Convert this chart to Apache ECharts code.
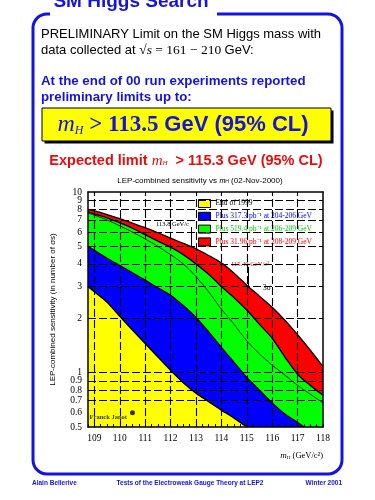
<!DOCTYPE html>
<html><head><meta charset="utf-8">
<script src="https://cdn.jsdelivr.net/npm/echarts@6/dist/echarts.min.js"></script>
<style>html,body{margin:0;padding:0;background:#fff}#c{width:375px;height:500px}</style>
</head><body><div id="c"></div>
<script>
// ---- data ----
const endOf1999 = [[108.75,3.0],[109,2.8],[109.5,2.45],[110,2.05],[110.5,1.72],[111,1.45],[111.5,1.22],[112,1.03],[112.5,0.88],[113,0.77],[113.5,0.69],[114,0.62],[114.5,0.56],[115,0.5]];
const plusBlue = [[108.75,5.0],[109,4.75],[109.5,4.3],[110,3.92],[110.5,3.57],[111,3.25],[111.5,2.95],[112,2.68],[112.5,2.35],[113,2.02],[113.5,1.68],[114,1.38],[114.5,1.14],[115,0.94],[115.5,0.8],[116,0.68],[116.5,0.59],[117,0.53],[117.26,0.5]];
const plusGreen = [[108.75,7.75],[109,7.55],[109.5,7.2],[110,6.75],[110.5,6.3],[111,5.8],[111.5,5.35],[112,4.95],[112.5,4.5],[113,4.0],[113.5,3.5],[114,3.0],[114.5,2.6],[115,2.22],[115.5,1.85],[116,1.55],[116.5,1.22],[117,0.98],[117.5,0.85],[118,0.75]];
const plusRed = [[108.75,8.0],[109,7.85],[109.5,7.5],[110,7.12],[110.5,6.72],[111,6.35],[111.5,5.95],[112,5.55],[112.5,5.2],[113,4.85],[113.5,4.45],[114,4.05],[114.5,3.55],[115,3.05],[115.5,2.65],[116,2.3],[116.5,1.95],[117,1.62],[117.5,1.33],[118,1.08]];
const innerLine = [[108.75,7.65],[109,7.45],[109.5,7.0],[110,6.5],[110.5,6.0],[111,5.5],[111.5,5.0],[112,4.5],[112.5,4.0],[113,3.4],[113.5,2.8],[114,2.25],[114.5,1.85],[115,1.5],[115.5,1.27],[116,1.1],[116.5,0.97],[117,0.85],[117.5,0.76],[118,0.68]];
const janotPoint = [[110.5,0.6]];
const gridY = [0.7,0.8,0.9,1,2,3,4,5,6,7,8,9];
const gridX = [109,110,111,112,113,114,115,116,117];
const yTickLabels = [0.5,0.6,0.7,0.8,0.9,1,2,3,4,5,6,7,8,9,10];
const fiveSigma = {mass:112.82, level:5.0, top:6.4};
const threeSigma = {mass:115.04, level:3.0, top:3.85};
const seriesNames = ['End of 1999','Plus 317.3 pb\u207B\u00B9 at 204-206 GeV','Plus 519.4 pb\u207B\u00B9 at 206-209 GeV','Plus 31.96 pb\u207B\u00B9 at 208-209 GeV'];
const bandColors = ['#ffff00','#0000ff','#00ff00','#ff0000'];
const legendTextColors = ['#000000','#0000ff','#00d000','#ff0000'];

const BLUE = '#1414dc';
const chart = echarts.init(document.getElementById('c'), null, {renderer:'canvas'});

function band(i, data, z){
  return {name:seriesNames[i], type:'line', data:data, z:z, smooth:0.3, symbol:'none', silent:true,
    lineStyle:{color:'#000', width:1.3}, itemStyle:{color:bandColors[i]},
    areaStyle:{color:bandColors[i], opacity:1, origin:'start'}};
}
const dash = {type:[8,3], color:'#000', width:1.1};
const mlData = [];
gridY.forEach(v => mlData.push({yAxis:v, lineStyle:dash, label:{show:false}}));
gridX.forEach(v => mlData.push({xAxis:v, lineStyle:dash, label:{show:false}}));
[fiveSigma, threeSigma].forEach(s => mlData.push([{coord:[s.mass,s.level], lineStyle:{type:'solid',color:'#000',width:1}, label:{show:false}},{coord:[s.mass,s.top]}]));
const tickData = yTickLabels.map(v => ({yAxis:v, label:{formatter:String(v)}}));

const axisCommon = {axisLine:{show:true, lineStyle:{color:'#000', width:1.5}}, splitLine:{show:false}, z:10};

const option = {
  animation:false,
  backgroundColor:'#fff',
  grid:{left:88, right:52, top:192, bottom:73},
  xAxis:[
    Object.assign({type:'value', min:108.75, max:118, interval:0.25, position:'bottom',
      axisTick:{inside:true, length:3, lineStyle:{color:'#000'}},
      axisLabel:{formatter:v => Math.abs(v-Math.round(v))<1e-6 ? String(Math.round(v)) : '', color:'#000', fontFamily:'Liberation Serif', fontSize:9.5, margin:6}}, axisCommon),
    Object.assign({type:'value', min:108.75, max:118, position:'top', axisTick:{show:false}, axisLabel:{show:false}}, axisCommon)
  ],
  yAxis:[
    Object.assign({type:'log', logBase:10, min:0.5, max:10, position:'left', axisTick:{show:false}, axisLabel:{show:false},
      name:'LEP-combined sensitivity (in number of \u03C3s)', nameLocation:'middle', nameGap:31,
      nameTextStyle:{fontFamily:'Liberation Sans', fontSize:8, color:'#000'}}, axisCommon),
    Object.assign({type:'log', logBase:10, min:0.5, max:10, position:'right', axisTick:{show:false}, axisLabel:{show:false}}, axisCommon)
  ],
  legend:{orient:'vertical', left:198, top:199, padding:0, itemWidth:12, itemHeight:8, itemGap:3.8, icon:'rect', selectedMode:false,
    itemStyle:{borderColor:'#000', borderWidth:1},
    textStyle:{fontFamily:'Liberation Serif', fontSize:7.5},
    data:seriesNames.map((n,i)=>({name:n, itemStyle:{color:bandColors[i], borderColor:'#000', borderWidth:1}, textStyle:{color:legendTextColors[i]}}))},
  series:[
    band(3, plusRed, 1),
    band(2, plusGreen, 2),
    band(1, plusBlue, 3),
    band(0, endOf1999, 4),
    {name:'inner', type:'line', data:innerLine, z:5, smooth:0.3, symbol:'none', silent:true,
      lineStyle:{color:'#000', width:0.8},
      markLine:{silent:true, symbol:'none', animation:false, data:mlData}},
    {name:'janot', type:'scatter', data:janotPoint, z:6, symbolSize:5, itemStyle:{color:'#000'}, silent:true,
      label:{show:true, formatter:'Franck Janot', position:'left', distance:3, offset:[0,5], color:'#000', fontFamily:'Liberation Serif', fontWeight:'bold', fontSize:6.5},
      markLine:{silent:true, symbol:'none', animation:false,
        lineStyle:{color:'rgba(0,0,0,0)', width:0},
        label:{show:true, position:'start', distance:6, color:'#000', fontFamily:'Liberation Serif', fontSize:9.5},
        data:tickData}}
  ],
  graphic:[
    {type:'rect', shape:{x:33, y:14, width:309, height:460, r:14}, style:{fill:null, stroke:BLUE, lineWidth:3}},
    {type:'rect', shape:{x:50, y:10, width:167, height:8}, style:{fill:'#fff'}},
    {type:'text', x:131, y:2, style:{text:'SM Higgs Search', font:'bold 19px "Liberation Sans"', fill:BLUE, align:'center', verticalAlign:'middle'}},
    {type:'text', x:41, y:34, style:{text:'PRELIMINARY Limit on the SM Higgs mass with', font:'13px "Liberation Sans"', fill:'#000', align:'left', verticalAlign:'middle'}},
    {type:'text', x:41, y:50, style:{text:'data collected at {r|\u221A}{i|s}{n| = 161 \u2212 210 }GeV:', font:'13px "Liberation Sans"', fill:'#000', align:'left', verticalAlign:'middle',
      rich:{r:{font:'13.5px "Liberation Serif"', fill:'#000'}, i:{font:'italic 13.5px "Liberation Serif"', fill:'#000'}, n:{font:'13.5px "Liberation Serif"', fill:'#000'}}}},
    {type:'text', x:41, y:81, style:{text:'At the end of 00 run experiments reported', font:'bold 13.3px "Liberation Sans"', fill:BLUE, align:'left', verticalAlign:'middle'}},
    {type:'text', x:41, y:97, style:{text:'preliminary limits up to:', font:'bold 13.3px "Liberation Sans"', fill:BLUE, align:'left', verticalAlign:'middle'}},
    {type:'rect', shape:{x:44.5, y:110.5, width:289, height:33}, style:{fill:'#000'}},
    {type:'rect', shape:{x:42, y:108, width:289, height:33}, style:{fill:'#ffff00', stroke:'#000', lineWidth:1}},
    {type:'text', x:183, y:125, style:{text:'{m|m}{s|H}{o| > 113.5 }{g|GeV (95% CL)}', align:'center', verticalAlign:'middle',
      rich:{m:{font:'italic 24px "Liberation Serif"', fill:BLUE}, s:{font:'italic 12px "Liberation Serif"', fill:BLUE, verticalAlign:'bottom', padding:[8,0,0,0]},
        o:{font:'bold 23px "Liberation Serif"', fill:BLUE}, g:{font:'bold 22px "Liberation Sans"', fill:BLUE}}}},
    {type:'text', x:186, y:161, style:{text:'{t|Expected limit }{m|m}{s|H}{t|  > 115.3 GeV (95% CL)}', align:'center', verticalAlign:'middle',
      rich:{t:{font:'bold 14.5px "Liberation Sans"', fill:'#e01010'}, m:{font:'italic 15px "Liberation Serif"', fill:'#e01010'}, s:{font:'italic 7px "Liberation Serif"', fill:'#e01010', padding:[5,0,0,0]}}}},
    {type:'text', x:200, y:180.5, style:{text:'LEP-combined sensitivity vs {m|m}{s|H} (02-Nov-2000)', font:'8px "Liberation Sans"', fill:'#000', align:'center', verticalAlign:'middle',
      rich:{m:{font:'italic 8.5px "Liberation Serif"', fill:'#000'}, s:{font:'5px "Liberation Sans"', fill:'#000', padding:[3,0,0,0]}}}},
    {type:'text', x:323, y:456, style:{text:'{m|m}{s|H} (GeV/c\u00B2)', font:'8.5px "Liberation Serif"', fill:'#000', align:'right', verticalAlign:'middle',
      rich:{m:{font:'italic 9px "Liberation Serif"', fill:'#000'}, s:{font:'5px "Liberation Serif"', fill:'#000', padding:[3,0,0,0]}}}},
    {type:'text', x:189, y:224, style:{text:'113.8 GeV/c', font:'6.5px "Liberation Serif"', fill:'#000', align:'right', verticalAlign:'middle'}},
    {type:'text', x:183, y:255, style:{text:'5\u03C3', font:'7.5px "Liberation Serif"', fill:'#000', align:'left', verticalAlign:'middle'}},
    {type:'text', x:250, y:264, style:{text:'115.40 GeV/c\u00B2', font:'6.5px "Liberation Serif"', fill:'#e00000', align:'center', verticalAlign:'middle'}},
    {type:'text', x:263, y:288, style:{text:'3\u03C3', font:'7.5px "Liberation Serif"', fill:'#000', align:'left', verticalAlign:'middle'}},
    {type:'text', x:32, y:483, style:{text:'Alain Bellerive', font:'bold 6.5px "Liberation Sans"', fill:BLUE, align:'left', verticalAlign:'middle'}},
    {type:'text', x:190, y:483, style:{text:'Tests of the Electroweak Gauge Theory at LEP2', font:'bold 6.5px "Liberation Sans"', fill:BLUE, align:'center', verticalAlign:'middle'}},
    {type:'text', x:342, y:483, style:{text:'Winter 2001', font:'bold 6.5px "Liberation Sans"', fill:BLUE, align:'right', verticalAlign:'middle'}}
  ]
};
chart.setOption(option);
</script></body></html>
